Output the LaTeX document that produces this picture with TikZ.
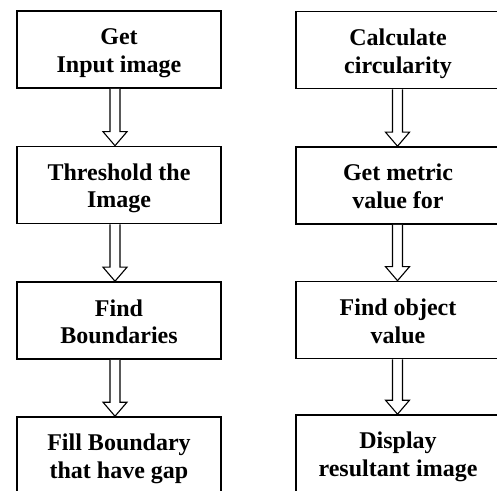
\documentclass[tikz,border=0pt]{standalone}
\usepackage{fontspec}
\setmainfont{Liberation Serif}
\usetikzlibrary{calc}
\newcommand{\twolines}[2]{\rule{0pt}{23.6pt}#1\\#2\rule[-5pt]{0pt}{5pt}}
\tikzset{
  stepbox/.style={draw=black, line width=1.6pt, minimum width=204pt, minimum height=77pt,
    align=center, font=\bfseries\fontsize{24}{27.6}\selectfont, inner sep=0pt},
  arr/.style={draw=black, line width=1.1pt, fill=white, line join=miter}
}
\newcommand{\blockarrow}[3]{%
  \draw[arr] let \p1=(#1.south), \p2=(#2.north) in
    (\x1+#3-5pt,\y1) -- (\x1+#3-5pt,\y2+14pt) -- (\x1+#3-12pt,\y2+14pt) -- (\x1+#3,\y2)
    -- (\x1+#3+12pt,\y2+14pt) -- (\x1+#3+5pt,\y2+14pt) -- (\x1+#3+5pt,\y1);}
\begin{document}
\begin{tikzpicture}[x=1pt,y=1pt]
\useasboundingbox (0,0) rectangle (497,490);
\clip (0,0) rectangle (497,490);
\fill[white] (0,0) rectangle (497,490);
% left column
\node[stepbox] (l1) at (119,440.5) {\twolines{Get}{Input image}};
\node[stepbox] (l2) at (119,305) {\twolines{Threshold the}{Image}};
\node[stepbox] (l3) at (119,169.5) {\twolines{Find}{Boundaries}};
\node[stepbox] (l4) at (119,34.5) {\twolines{Fill Boundary}{that have gap}};
% right column
\node[stepbox] (r1) at (398,440) {\twolines{Calculate}{circularity}};
\node[stepbox] (r2) at (398,304.5) {\twolines{Get metric}{value for}};
\node[stepbox] (r3) at (398,170) {\twolines{Find object}{value}};
\node[stepbox] (r4) at (398,36.5) {\twolines{Display}{resultant image}};
\blockarrow{l1}{l2}{-4pt}
\blockarrow{l2}{l3}{-4pt}
\blockarrow{l3}{l4}{-4pt}
\blockarrow{r1}{r2}{-0.5pt}
\blockarrow{r2}{r3}{-0.5pt}
\blockarrow{r3}{r4}{-0.5pt}
\end{tikzpicture}
\end{document}
